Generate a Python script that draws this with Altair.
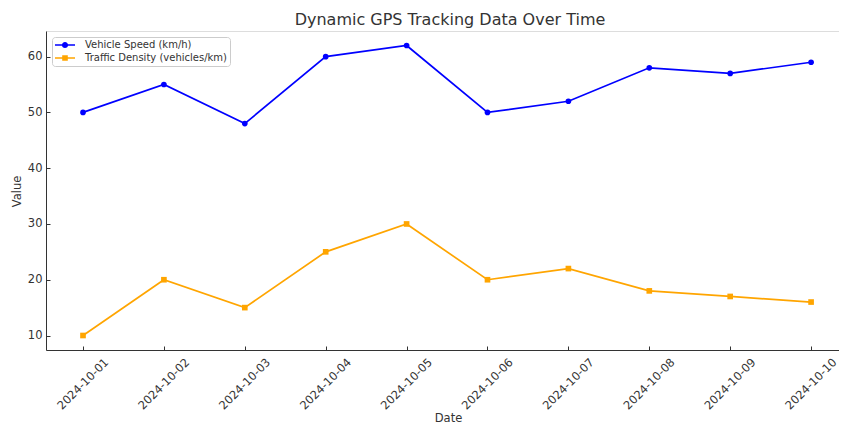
import altair as alt
import pandas as pd

# ---- data ----
dates = ["2024-10-01", "2024-10-02", "2024-10-03", "2024-10-04", "2024-10-05",
         "2024-10-06", "2024-10-07", "2024-10-08", "2024-10-09", "2024-10-10"]
vehicle_speed = [50, 55, 48, 60, 62, 50, 52, 58, 57, 59]
traffic_density = [10, 20, 15, 25, 30, 20, 22, 18, 17, 16]
series_names = ["Vehicle Speed (km/h)", "Traffic Density (vehicles/km)"]
y_ticks = [10, 20, 30, 40, 50, 60]

rows = []
for i, (d, v) in enumerate(zip(dates, vehicle_speed)):
    rows.append({"idx": i, "date": d, "value": v, "series": series_names[0]})
for i, (d, v) in enumerate(zip(dates, traffic_density)):
    rows.append({"idx": i, "date": d, "value": v, "series": series_names[1]})
df = pd.DataFrame(rows)

# ---- styles ----
FONT = "DejaVu Sans"
TXT = "#333333"
colors = ["#0000FF", "#FFA500"]
W, H = 793, 319

date_label_expr = "[" + ",".join("'" + d + "'" for d in dates) + "][datum.value]"
x_ticks = list(range(len(dates)))

color_scale = alt.Scale(domain=series_names, range=colors)
x_scale = alt.Scale(domain=[-0.4574, 9.345], nice=False, zero=False)
y_scale = alt.Scale(domain=[7.4, 64.6], nice=False, zero=False)

# legend symbols: line segment + marker (custom paths in unit box)
line_bar = "M-2,-0.17L2,-0.17L2,0.17L-2,0.17Z"
circle_path = line_bar + "M0.62,0A0.62,0.62 0 1,1 -0.62,0A0.62,0.62 0 1,1 0.62,0Z"
square_path = line_bar + "M-0.56,-0.56L0.56,-0.56L0.56,0.56L-0.56,0.56Z"

legend_def = alt.Legend(
    title=None, orient="top-left", offset=6, padding=3,
    fillColor="white", strokeColor="#cccccc", cornerRadius=3,
    symbolSize=100, symbolOffset=5, symbolStrokeWidth=0, symbolOpacity=1,
    labelOffset=15, labelFont=FONT, labelFontSize=10, labelColor=TXT,
    labelLimit=300, rowPadding=3,
)

lines = alt.Chart(df).mark_line(strokeWidth=1.7).encode(
    x=alt.X("idx:Q", scale=x_scale,
            axis=alt.Axis(orient="bottom", values=x_ticks, labelExpr=date_label_expr,
                          labelAngle=-45, labelAlign="center",
                          labelBaseline="middle", labelPadding=34, ticks=False,
                          domainColor=TXT, domainWidth=1, labelFont=FONT,
                          labelFontSize=11.5, labelColor=TXT, labelFlush=False,
                          labelOverlap=False, title="Date",
                          titleFont=FONT, titleFontSize=11.5, titleFontWeight="normal",
                          titleColor=TXT, titleBaseline="alphabetic", titleY=71,
                          titleX=402, grid=False)),
    y=alt.Y("value:Q", scale=y_scale,
            axis=alt.Axis(orient="left", values=y_ticks, ticks=False, labelPadding=4,
                          domainColor=TXT, domainWidth=1, labelFont=FONT,
                          labelFontSize=11.5, labelColor=TXT, labelFlush=False,
                          title="Value",
                          titleFont=FONT, titleFontSize=11.5, titleFontWeight="normal",
                          titleColor=TXT, titleX=-29, titleY=160, titleAngle=-90,
                          titleAlign="center", titleBaseline="middle", grid=False)),
    color=alt.Color("series:N", scale=color_scale, legend=None),
    detail="series:N",
)

points = alt.Chart(df).mark_point(filled=True, size=32, opacity=1).encode(
    x=alt.X("idx:Q", scale=x_scale,
            axis=alt.Axis(orient="top", offset=-H, values=x_ticks, labels=False,
                          domain=False, ticks=True, tickSize=4, tickColor=TXT,
                          tickWidth=1, title=None, grid=False)),
    y=alt.Y("value:Q", scale=y_scale,
            axis=alt.Axis(orient="right", offset=-W, values=y_ticks, labels=False,
                          domain=False, ticks=True, tickSize=4, tickColor=TXT,
                          tickWidth=1, title=None, grid=False)),
    color=alt.Color("series:N", scale=color_scale, legend=None),
    shape=alt.Shape("series:N", scale=alt.Scale(domain=series_names, range=["circle", "square"]),
                    legend=None),
)

legend_layer = alt.Chart(df).transform_filter("false").mark_point(
    filled=True, size=100, opacity=1
).encode(
    color=alt.Color("series:N", scale=color_scale, legend=legend_def),
    shape=alt.Shape("series:N", scale=alt.Scale(domain=series_names, range=[circle_path, square_path]),
                    legend=legend_def),
)

chart = alt.layer(lines, points, legend_layer).resolve_scale(
    color="independent", shape="independent"
).resolve_axis(
    x="independent", y="independent"
).properties(
    width=W, height=H,
    autosize=alt.AutoSizeParams(type="none"),
    padding={"left": 38, "top": 23, "right": 0, "bottom": 75},
    title=alt.Title("Dynamic GPS Tracking Data Over Time", font=FONT, fontSize=16,
                    fontWeight="normal", color=TXT, anchor="start", frame="group",
                    align="center", dx=404,
                    baseline="alphabetic", offset=4, dy=14),
).configure_view(stroke=None).configure(background="white")

chart.save("out.html", embed_options={"renderer": "svg", "actions": False})
